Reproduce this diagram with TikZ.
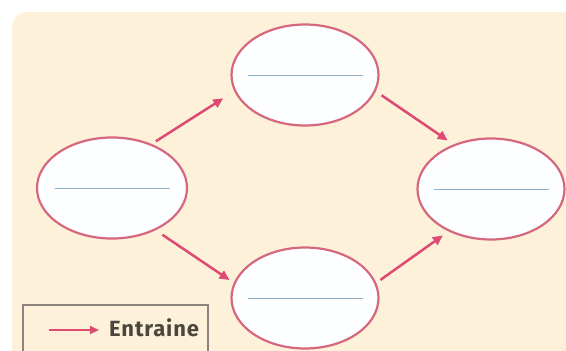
\documentclass[tikz,border=0pt]{standalone}
\usepackage{fontspec}
\setmainfont{Fira Sans}
\usetikzlibrary{arrows.meta,shapes.geometric}
\definecolor{cream}{HTML}{FDF1DA}
\definecolor{ringred}{HTML}{D5687E}
\definecolor{arrred}{HTML}{DD4A72}
\definecolor{blankblue}{HTML}{8EB3CB}
\definecolor{ovalfill}{HTML}{FCFEFF}
\definecolor{legendgray}{HTML}{8A867C}
\definecolor{legendtext}{HTML}{4A463D}
\tikzset{
  oval/.style={ellipse, draw=ringred, line width=2.2pt, fill=ovalfill,
    minimum width=147pt, minimum height=101pt, inner sep=0pt},
  arr/.style={draw=arrred, line width=2.5pt,
    -{Triangle[length=10pt,width=9pt]}, shorten <=5pt, shorten >=6pt},
  blank/.style={draw=blankblue, line width=1.1pt},
  legendbox/.style={draw=legendgray, line width=1.2pt},
}
\begin{document}
\begin{tikzpicture}[x=1pt,y=-1pt]
\useasboundingbox (0,0) rectangle (566,351);
\clip (0,0) rectangle (566,351);
% background panel
\fill[cream] (12,380) -- (12,27) arc[start angle=180,end angle=270,radius=15] -- (600,12) -- (600,380) -- cycle;
% ovals
\node[oval, minimum width=150pt] (L) at (112,188) {};
\node[oval] (T) at (305,75) {};
\node[oval] (R) at (491,189) {};
\node[oval] (B) at (305,298) {};
% blanks
\foreach \n in {L,T,R,B}{
  \draw[blank] ([xshift=-57pt,yshift=-0.5pt]\n.center) -- ([xshift=58pt,yshift=-0.5pt]\n.center);
}
% connectors
\draw[arr, shorten >=13pt] (L.48) -- (T.193);
\draw[arr, shorten <=7pt, shorten >=7pt] (T.-13) -- (R.130);
\draw[arr, shorten <=8pt, shorten >=5pt] (L.-44) -- (B.168);
\draw[arr, shorten <=5pt, shorten >=7pt] (B.12) -- (R.225);
% legend
\draw[legendbox] (23,360) -- (23,305) -- (208,305) -- (208,360);
\coordinate (la) at (49,330);
\coordinate (lb) at (99,330);
\draw[arr, line width=2.2pt, shorten <=0pt, shorten >=0pt, -{Triangle[length=9pt,width=8pt]}] (la) -- (lb);
\node[anchor=base west, inner sep=0pt, text=legendtext, font=\bfseries\fontsize{22}{22}\selectfont\addfontfeature{LetterSpace=4}] (lt) at (109,336) {Entraine};
\end{tikzpicture}
\end{document}
